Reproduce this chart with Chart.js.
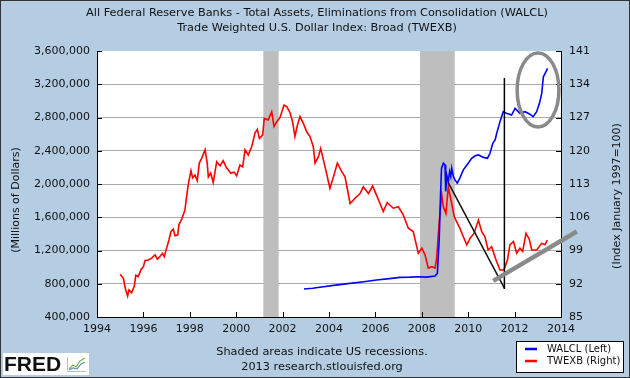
<!DOCTYPE html>
<html lang="en">
<head>
<meta charset="UTF-8">
<title>WALCL and TWEXB</title>
<script src="https://cdn.jsdelivr.net/npm/chart.js"></script>
<style>
  html, body { margin: 0; padding: 0; background: #b4cde3; }
  canvas { display: block; }
</style>
</head>
<body>
<canvas id="fredChart" width="630" height="378"></canvas>
<script>
// WALCL - total assets, millions of dollars (left axis)
const walclYears = [2002.92, 2003.30, 2003.60, 2004.20, 2004.90, 2005.50, 2006.05, 2006.60, 2007.06, 2007.50, 2007.85, 2008.20,
  2008.57, 2008.67, 2008.75, 2008.81, 2008.85, 2008.93, 2009.00, 2009.03, 2009.08, 2009.14, 2009.20, 2009.25, 2009.29,
  2009.36, 2009.43, 2009.53, 2009.64, 2009.79, 2010.00, 2010.15, 2010.30, 2010.44, 2010.66, 2010.83, 2010.94, 2011.06,
  2011.16, 2011.23, 2011.37, 2011.51, 2011.65, 2011.87, 2012.02, 2012.23, 2012.45, 2012.66, 2012.80, 2012.95, 2013.07,
  2013.17, 2013.24, 2013.35, 2013.42];
const walclValues = [737000, 745000, 757000, 780000, 805000, 825000, 845000, 862000, 877000, 880000, 885000, 880000,
  893000, 925000, 1330000, 1890000, 2190000, 2250000, 2230000, 1910000, 2100000, 2030000, 2150000, 2090000, 2190000,
  2090000, 2050000, 2010000, 2070000, 2170000, 2250000, 2310000, 2340000, 2350000, 2320000, 2310000, 2370000, 2490000,
  2530000, 2610000, 2750000, 2870000, 2850000, 2830000, 2910000, 2850000, 2870000, 2840000, 2810000, 2870000, 2970000,
  3090000, 3290000, 3350000, 3390000];

// TWEXB - trade weighted dollar index, Jan 1997 = 100 (right axis)
const twexbYears = [1995.00, 1995.14, 1995.22, 1995.32, 1995.38, 1995.49, 1995.61, 1995.67, 1995.78, 1995.90, 1996.00,
  1996.07, 1996.21, 1996.36, 1996.50, 1996.60, 1996.72, 1996.82, 1996.90, 1997.00, 1997.10, 1997.19, 1997.29, 1997.36,
  1997.48, 1997.53, 1997.65, 1997.79, 1997.86, 1997.94, 1998.05, 1998.12, 1998.22, 1998.32, 1998.41, 1998.51, 1998.66,
  1998.75, 1998.80, 1998.90, 1999.01, 1999.16, 1999.30, 1999.44, 1999.56, 1999.76, 1999.91, 2000.02, 2000.16, 2000.28,
  2000.38, 2000.52, 2000.67, 2000.81, 2000.91, 2001.00, 2001.14, 2001.21, 2001.38, 2001.53, 2001.63, 2001.75, 2001.89,
  2002.06, 2002.18, 2002.32, 2002.43, 2002.53, 2002.63, 2002.75, 2002.89, 2003.04, 2003.18, 2003.32, 2003.40, 2003.54,
  2003.64, 2003.83, 2004.04, 2004.19, 2004.36, 2004.55, 2004.69, 2004.91, 2005.12, 2005.34, 2005.48, 2005.70, 2005.88,
  2006.08, 2006.34, 2006.51, 2006.77, 2006.99, 2007.20, 2007.42, 2007.63, 2007.85, 2008.00, 2008.14, 2008.28, 2008.43,
  2008.57, 2008.64, 2008.75, 2008.86, 2008.93, 2009.04, 2009.14, 2009.29, 2009.40, 2009.50, 2009.64, 2009.79, 2009.94,
  2010.08, 2010.25, 2010.44, 2010.58, 2010.72, 2010.86, 2011.01, 2011.20, 2011.37, 2011.54, 2011.69, 2011.80, 2011.95,
  2012.09, 2012.23, 2012.35, 2012.49, 2012.63, 2012.74, 2012.95, 2013.17, 2013.31, 2013.41];
const twexbValues = [94.0, 93.1, 91.0, 89.4, 90.7, 90.1, 91.5, 93.8, 93.5, 95.0, 95.6,
  96.9, 97.0, 97.4, 98.1, 97.2, 97.8, 98.4, 97.7, 99.5, 101.2, 103.0, 103.5, 102.1,
  102.3, 104.4, 105.6, 107.5, 110.3, 113.1, 115.8, 114.3, 114.9, 113.7, 117.4, 118.4, 120.2,
  117.4, 114.5, 115.3, 113.3, 117.7, 116.8, 117.9, 116.6, 115.3, 115.5, 114.7, 117.0, 116.6,
  120.2, 119.1, 120.9, 123.7, 124.5, 122.6, 123.3, 126.8, 126.5, 128.2, 125.1, 126.1, 127.0,
  129.6, 129.3, 128.0, 126.1, 123.0, 125.2, 127.2, 125.8, 124.0, 123.0, 120.9, 117.4, 118.7,
  120.5, 116.6, 112.1, 114.5, 117.4, 115.6, 114.5, 108.9, 110.0, 111.0, 112.4, 111.0, 112.6,
  110.3, 107.2, 109.1, 107.9, 108.2, 106.5, 103.7, 103.0, 98.4, 99.5, 98.1, 95.3, 95.6,
  95.3, 97.4, 105.1, 110.7, 108.2, 106.8, 112.4, 108.9, 106.1, 105.1, 103.7, 101.9, 100.2,
  101.6, 102.6, 105.4, 103.0, 101.9, 99.1, 99.8, 97.0, 94.9, 94.9, 97.0, 100.2, 100.9,
  98.4, 99.5, 98.8, 102.6, 101.4, 99.1, 99.1, 100.5, 100.2, 101.2];

// recessions (start, end) in decimal years
const recessionStarts = [2001.17, 2007.92];
const recessionEnds = [2001.83, 2009.42];

// hand-drawn marks on the original, in data units (x = year, y = right-axis index)
const downLine = [[2009.14, 113.3], [2011.56, 91.1]];
const vertLine = [[2011.56, 135.3], [2011.56, 90.9]];
const greyLine = [[2011.08, 92.6], [2014.68, 103.0]];
const ellipseMark = { x: 2013.01, y: 132.8, rx: 0.9, ry: 7.8 };

const FONT = '"DejaVu Sans", Verdana, sans-serif';
const BG = '#b4cde3';

const fredPlugin = {
  id: 'fredDecor',
  beforeDraw(chart) {
    const c = chart.ctx, a = chart.chartArea;
    c.save();
    c.fillStyle = BG;
    c.fillRect(0, 0, chart.width, chart.height);
    c.fillStyle = '#fff';
    c.fillRect(a.left, a.top, a.right - a.left, a.bottom - a.top);
    c.restore();
  },
  beforeDatasetsDraw(chart) {
    const c = chart.ctx, a = chart.chartArea, x = chart.scales.x;
    c.save();
    c.fillStyle = '#bebebe';
    recessionStarts.forEach((s, i) => {
      const x0 = x.getPixelForValue(s), x1 = x.getPixelForValue(recessionEnds[i]);
      c.fillRect(x0, a.top, x1 - x0, a.bottom - a.top);
    });
    c.restore();
  },
  afterDraw(chart) {
    const c = chart.ctx, a = chart.chartArea;
    const sx = chart.scales.x, sy = chart.scales.y, sy1 = chart.scales.y1;
    c.save();

    // inward ticks
    c.strokeStyle = '#000';
    c.lineWidth = 1;
    c.beginPath();
    sx.ticks.forEach((t, i) => {
      const px = Math.round(sx.getPixelForTick(i)) + 0.5;
      c.moveTo(px, a.bottom); c.lineTo(px, a.bottom - 5);
    });
    sy.ticks.forEach((t, i) => {
      const py = Math.round(sy.getPixelForTick(i)) + 0.5;
      c.moveTo(a.left, py); c.lineTo(a.left + 5, py);
    });
    sy1.ticks.forEach((t, i) => {
      const py = Math.round(sy1.getPixelForTick(i)) + 0.5;
      c.moveTo(a.right, py); c.lineTo(a.right - 5, py);
    });
    c.stroke();

    // annotations
    const P = p => [sx.getPixelForValue(p[0]), sy1.getPixelForValue(p[1])];
    const seg = (pts, color, w) => {
      const p0 = P(pts[0]), p1 = P(pts[1]);
      c.strokeStyle = color; c.lineWidth = w; c.lineCap = 'butt';
      c.beginPath(); c.moveTo(p0[0], p0[1]); c.lineTo(p1[0], p1[1]); c.stroke();
    };
    seg(downLine, '#111', 1.5);
    seg(vertLine, '#000', 1.5);
    seg(greyLine, '#8a8a8a', 4.5);
    const ec = P([ellipseMark.x, ellipseMark.y]);
    const erx = sx.getPixelForValue(ellipseMark.x + ellipseMark.rx) - ec[0];
    const ery = ec[1] - sy1.getPixelForValue(ellipseMark.y + ellipseMark.ry);
    c.strokeStyle = '#8a8a8a'; c.lineWidth = 3.5;
    c.beginPath(); c.ellipse(ec[0], ec[1], erx, ery, 0, 0, Math.PI * 2); c.stroke();

    // titles
    c.fillStyle = '#111';
    c.textAlign = 'center';
    c.textBaseline = 'middle';
    c.font = '11.3px ' + FONT;
    c.fillText('All Federal Reserve Banks - Total Assets, Eliminations from Consolidation (WALCL)', 317, 13);
    c.fillText('Trade Weighted U.S. Dollar Index: Broad (TWEXB)', 317, 28);

    // axis titles
    c.font = '11px ' + FONT;
    c.save(); c.translate(16, 200); c.rotate(-Math.PI / 2);
    c.fillText('(Millions of Dollars)', 0, 0); c.restore();
    c.save(); c.translate(617, 196); c.rotate(-Math.PI / 2);
    c.fillText('(Index January 1997=100)', 0, 0); c.restore();

    // footer
    c.font = '11.3px ' + FONT;
    c.fillText('Shaded areas indicate US recessions.', 322, 352);
    c.fillText('2013 research.stlouisfed.org', 322, 367);

    // legend
    c.fillStyle = '#fff';
    c.fillRect(516, 341, 108, 32);
    c.strokeStyle = '#000'; c.lineWidth = 1;
    c.strokeRect(516.5, 341.5, 107, 31);
    c.lineWidth = 2.5;
    c.strokeStyle = chart.data.datasets[0].borderColor;
    c.beginPath(); c.moveTo(525, 349); c.lineTo(537, 349); c.stroke();
    c.strokeStyle = chart.data.datasets[1].borderColor;
    c.beginPath(); c.moveTo(525, 361); c.lineTo(537, 361); c.stroke();
    c.fillStyle = '#111';
    c.textAlign = 'left';
    c.font = '10px ' + FONT;
    c.fillText(chart.data.datasets[0].label, 547, 349);
    c.fillText(chart.data.datasets[1].label, 547, 361);

    // FRED logo
    c.fillStyle = '#fff';
    c.fillRect(3, 353, 86, 22);
    c.fillStyle = '#111';
    c.font = 'bold 21px "Liberation Sans", Arial, sans-serif';
    c.textBaseline = 'alphabetic';
    c.fillText('FRED', 4, 371);
    c.strokeStyle = '#bbb'; c.lineWidth = 1;
    c.beginPath(); c.moveTo(67.5, 357); c.lineTo(67.5, 371.5); c.lineTo(86, 371.5); c.stroke();
    c.lineWidth = 1.2;
    c.strokeStyle = '#7fb24a';
    c.beginPath(); c.moveTo(69, 369); c.lineTo(73, 365); c.lineTo(76, 367); c.lineTo(80, 361); c.lineTo(85, 358); c.stroke();
    c.strokeStyle = '#6a8fc8';
    c.beginPath(); c.moveTo(69, 370); c.lineTo(73, 368); c.lineTo(77, 369); c.lineTo(81, 364); c.lineTo(85, 362); c.stroke();

    // outer frame
    c.strokeStyle = '#333'; c.lineWidth = 1;
    c.strokeRect(0.5, 0.5, chart.width - 1, chart.height - 1);
    c.restore();
  }
};

const tickFont = { family: FONT, size: 11 };

new Chart(document.getElementById('fredChart'), {
  type: 'line',
  data: {
    datasets: [
      {
        label: 'WALCL (Left)',
        data: walclYears.map((yr, i) => ({ x: yr, y: walclValues[i] })),
        yAxisID: 'y',
        borderColor: '#0000ff',
        borderWidth: 1.6,
        pointRadius: 0,
        tension: 0
      },
      {
        label: 'TWEXB (Right)',
        data: twexbYears.map((yr, i) => ({ x: yr, y: twexbValues[i] })),
        yAxisID: 'y1',
        borderColor: '#ff0000',
        borderWidth: 1.6,
        pointRadius: 0,
        tension: 0
      }
    ]
  },
  options: {
    responsive: false,
    animation: false,
    devicePixelRatio: 1,
    layout: { padding: { top: 51, left: 0, right: 0, bottom: 0 } },
    plugins: { legend: { display: false }, tooltip: { enabled: false } },
    scales: {
      x: {
        type: 'linear', min: 1994, max: 2014,
        ticks: { stepSize: 2, autoSkip: false, maxRotation: 0, padding: 6, color: '#111', font: tickFont,
          callback: v => String(v) },
        grid: { display: false, drawTicks: false },
        border: { color: '#000', width: 1 },
        afterFit(s) { s.height = 61; }
      },
      y: {
        position: 'left', min: 400000, max: 3600000,
        ticks: { stepSize: 400000, padding: 7, color: '#111', font: tickFont,
          callback: v => v.toLocaleString('en-US') },
        grid: { drawTicks: false, color: ctx => (ctx.tick && (ctx.tick.value === 400000 || ctx.tick.value === 3600000)) ? 'rgba(0,0,0,0)' : '#aaaaaa' },
        border: { color: '#000', width: 1 },
        afterFit(s) { s.width = 97; }
      },
      y1: {
        position: 'right', min: 85, max: 141,
        ticks: { stepSize: 7, padding: 8, color: '#111', font: tickFont },
        grid: { drawOnChartArea: false, drawTicks: false },
        border: { color: '#000', width: 1 },
        afterFit(s) { s.width = 69; }
      }
    }
  },
  plugins: [fredPlugin]
});
</script>
</body>
</html>
